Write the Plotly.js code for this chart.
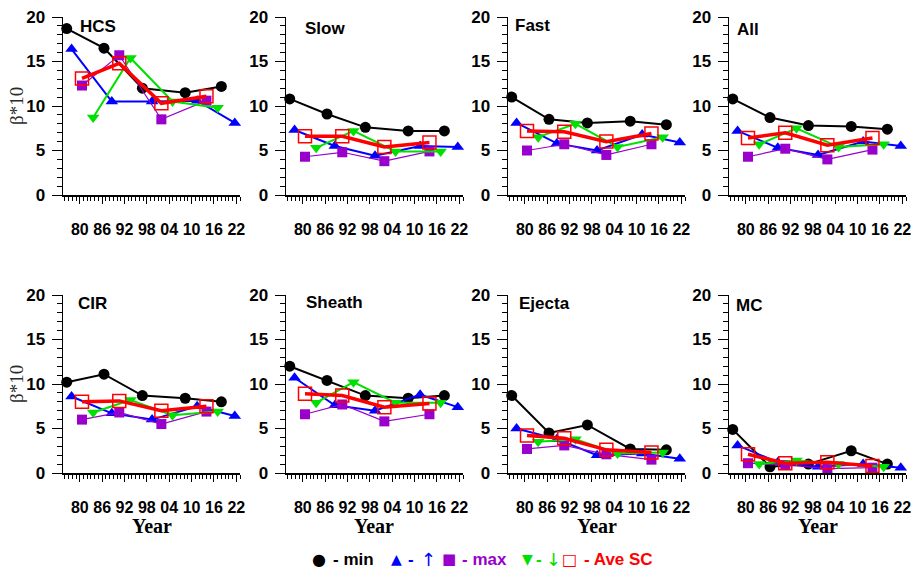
<!DOCTYPE html>
<html>
<head>
<meta charset="utf-8">
<script src="https://cdn.plot.ly/plotly-3.0.1.min.js"></script>
<style>html,body{margin:0;padding:0;background:#fff;}#chart{width:915px;height:572px;}</style>
</head>
<body>
<div id="chart"></div>
<script>
// ---- x positions (years) for each solar-cycle phase ----
const minYears  = [1976.5, 1986.5, 1996.8, 2008.3, 2018.0];
const riseYears = [1977.8, 1988.6, 1999.4, 2011.5, 2021.6];
const maxYears  = [1980.6, 1990.6, 2001.9, 2014.0];
const declYears = [1983.6, 1993.6, 2004.9, 2017.0];

const tickYears  = [1980, 1986, 1992, 1998, 2004, 2010, 2016, 2022];
const tickLabels = ['80', '86', '92', '98', '04', '10', '16', '22'];

const panelNames = ['HCS', 'Slow', 'Fast', 'All', 'CIR', 'Sheath', 'Ejecta', 'MC'];

// ---- values (beta*10) ----
const hcsMin  = [18.7, 16.5, 12.0, 11.5, 12.2];
const hcsRise = [16.4, 10.5, 10.5, 10.6, 8.1];
const hcsMax  = [12.3, 15.7, 8.5, 10.6];
const hcsDecl = [8.7, 15.4, 10.5, 9.8];
const hcsAve  = [13.1, 14.8, 10.3, 11.1];

const slowMin  = [10.8, 9.1, 7.6, 7.2, 7.2];
const slowRise = [7.3, 5.5, 4.4, 5.5, 5.4];
const slowMax  = [4.3, 4.8, 3.8, 4.9];
const slowDecl = [5.3, 7.2, 4.9, 4.9];
const slowAve  = [6.6, 6.6, 5.4, 5.9];

const fastMin  = [11.0, 8.5, 8.1, 8.3, 7.9];
const fastRise = [8.1, 5.8, 5.0, 6.8, 5.9];
const fastMax  = [5.0, 5.7, 4.5, 5.7];
const fastDecl = [6.5, 8.0, 5.4, 6.5];
const fastAve  = [7.2, 7.1, 6.0, 6.9];

const allMin  = [10.8, 8.7, 7.8, 7.7, 7.4];
const allRise = [7.2, 5.3, 4.5, 6.0, 5.5];
const allMax  = [4.3, 5.2, 4.0, 5.1];
const allDecl = [5.7, 7.5, 5.4, 5.7];
const allAve  = [6.4, 7.0, 5.6, 6.4];

const cirMin  = [10.2, 11.1, 8.7, 8.4, 8.0];
const cirRise = [8.6, 6.7, 6.0, 7.5, 6.4];
const cirMax  = [6.0, 6.8, 5.5, 6.9];
const cirDecl = [6.8, 8.2, 6.5, 6.9];
const cirAve  = [8.0, 8.1, 7.0, 7.5];

const sheathMin  = [12.0, 10.4, 8.7, 8.4, 8.7];
const sheathRise = [10.7, 7.6, 7.0, 8.8, 7.4];
const sheathMax  = [6.6, 7.7, 5.8, 6.6];
const sheathDecl = [7.9, 10.2, 7.9, 7.9];
const sheathAve  = [8.9, 8.7, 7.4, 7.8];

const ejectaMin  = [8.7, 4.5, 5.4, 2.7, 2.6];
const ejectaRise = [5.0, 3.8, 2.0, 2.2, 1.6];
const ejectaMax  = [2.7, 3.1, 2.1, 1.5];
const ejectaDecl = [3.5, 3.8, 2.2, 2.3];
const ejectaAve  = [4.2, 3.9, 2.6, 2.3];

const mcMin  = [4.9, 0.7, 1.0, 2.5, 1.0];
const mcRise = [3.1, 1.2, 0.7, 1.0, 0.6];
const mcMax  = [1.1, 0.9, 0.5, 0.6];
const mcDecl = [1.0, 1.4, 1.0, 0.7];
const mcAve  = [2.1, 1.1, 1.2, 0.8];

const panelData = [
  [hcsMin, hcsRise, hcsMax, hcsDecl, hcsAve],
  [slowMin, slowRise, slowMax, slowDecl, slowAve],
  [fastMin, fastRise, fastMax, fastDecl, fastAve],
  [allMin, allRise, allMax, allDecl, allAve],
  [cirMin, cirRise, cirMax, cirDecl, cirAve],
  [sheathMin, sheathRise, sheathMax, sheathDecl, sheathAve],
  [ejectaMin, ejectaRise, ejectaMax, ejectaDecl, ejectaAve],
  [mcMin, mcRise, mcMax, mcDecl, mcAve]
];

// legend pieces: text, colour
const legendItems = [
  ['●', '#000000'], ['- min', '#000000'],
  ['▲', '#0000FF'], ['-', '#0000FF'], ['↑', '#0000FF'],
  ['■', '#9900CC'], ['- max', '#9900CC'],
  ['▼', '#00E000'], ['-', '#00E000'], ['↓', '#00E000'],
  ['□', '#FF0000'], ['- Ave SC', '#FF0000']
];

// ---- layout geometry (pixels) ----
const W = 915, H = 572;
const colPx = [[63, 240], [286, 463], [508, 685], [729, 906]];
const rowPx = [[17, 195], [295, 473]];
const labelPx = [[78, 27], [303, 28], [513, 26], [735, 29], [76, 303], [304, 302], [517, 303], [734, 305]];
// legend piece placement: [x px, anchor, size, bold, glyph-font]
const legendPos = [
  [319, 'center', 16, false, true], [331, 'left', 17, true, false],
  [396, 'center', 14, false, true], [406, 'left', 17, true, false], [428, 'center', 18, false, true],
  [449, 'center', 15, false, true], [460, 'left', 17, true, false],
  [527, 'center', 14, false, true], [534, 'left', 17, true, false], [553, 'center', 18, false, true],
  [569, 'center', 16, false, true], [582, 'left', 17, true, false]
];

const COL = {min: '#000000', rise: '#0000FF', max: '#9900CC', decl: '#00E000', ave: '#FF0000'};
const sans = 'Liberation Sans, Arial, sans-serif';
const glyph = 'DejaVu Sans, sans-serif';
const serif = 'Liberation Serif, Times New Roman, serif';

const traces = [];
const layout = {
  width: W, height: H,
  margin: {l: 0, r: 0, t: 0, b: 0},
  paper_bgcolor: '#fff', plot_bgcolor: '#fff',
  showlegend: false,
  annotations: []
};

panelNames.forEach((name, i) => {
  const r = Math.floor(i / 4), c = i % 4;
  const sx = i === 0 ? '' : String(i + 1);
  const xa = 'x' + sx, ya = 'y' + sx;
  const [mn, rs, mx, dc, av] = panelData[i];
  const common = {xaxis: xa, yaxis: ya, mode: 'lines+markers', cliponaxis: false, hoverinfo: 'skip'};
  traces.push(Object.assign({}, common, {x: minYears, y: mn, line: {color: COL.min, width: 2},
    marker: {symbol: 'circle', size: 11, color: COL.min}}));
  traces.push(Object.assign({}, common, {x: riseYears, y: rs, line: {color: COL.rise, width: 2},
    marker: {symbol: 'triangle-up', size: 11, color: COL.rise}}));
  traces.push(Object.assign({}, common, {x: maxYears, y: mx, line: {color: COL.max, width: 1.2},
    marker: {symbol: 'square', size: 10, color: COL.max}}));
  traces.push(Object.assign({}, common, {x: declYears, y: dc, line: {color: COL.decl, width: 2},
    marker: {symbol: 'triangle-down', size: 11, color: COL.decl}}));
  traces.push(Object.assign({}, common, {x: maxYears, y: av, line: {color: COL.ave, width: 3.5},
    marker: {symbol: 'square-open', size: 13, color: COL.ave, line: {color: COL.ave, width: 1.5}}}));

  const xd = [colPx[c][0] / W, colPx[c][1] / W];
  const yd = [1 - rowPx[r][1] / H, 1 - rowPx[r][0] / H];
  layout['xaxis' + sx] = {
    domain: xd, anchor: ya, range: [1975.5, 2023],
    showline: true, linecolor: '#000', linewidth: 1.5, mirror: false,
    showgrid: false, zeroline: false,
    ticks: 'outside', ticklen: 7, tickwidth: 1, tickcolor: '#000',
    tickmode: 'array', tickvals: tickYears, ticktext: tickLabels,
    tickfont: {family: sans, size: 16, weight: 'bold', color: '#000'},
    ticklabelstandoff: 12,
    minor: {tickmode: 'linear', tick0: 1975, dtick: 1, ticks: 'outside', ticklen: 4, tickwidth: 1, tickcolor: '#000', showgrid: false},
    fixedrange: true
  };
  layout['yaxis' + sx] = {
    domain: yd, anchor: xa, range: [0, 20],
    showline: true, linecolor: '#000', linewidth: 1.5, mirror: false,
    showgrid: false, zeroline: false,
    ticks: 'outside', ticklen: 10, tickwidth: 1, tickcolor: '#000',
    tickmode: 'array', tickvals: [0, 5, 10, 15, 20],
    tickfont: {family: sans, size: 17, weight: 'bold', color: '#000'},
    ticklabelstandoff: 3,
    minor: {tickmode: 'linear', tick0: 0, dtick: 1, ticks: 'outside', ticklen: 5, tickwidth: 1, tickcolor: '#000', showgrid: false},
    fixedrange: true
  };

  layout.annotations.push({
    xref: 'paper', yref: 'paper', x: labelPx[i][0] / W, y: 1 - labelPx[i][1] / H,
    xanchor: 'left', yanchor: 'middle', showarrow: false, text: name,
    font: {family: sans, size: 17, weight: 'bold', color: '#000'}
  });
  if (c === 0) {
    layout.annotations.push({
      xref: 'paper', yref: 'paper', x: 17 / W, y: (yd[0] + yd[1]) / 2,
      xanchor: 'center', yanchor: 'middle', showarrow: false, textangle: -90, text: 'β*10',
      font: {family: serif, size: 19, color: '#2b2b2b'}
    });
  }
  if (r === 1) {
    layout.annotations.push({
      xref: 'paper', yref: 'paper', x: (xd[0] + xd[1]) / 2, y: 1 - 526 / H,
      xanchor: 'center', yanchor: 'middle', showarrow: false, text: 'Year',
      font: {family: serif, size: 20, weight: 'bold', color: '#000'}
    });
  }
});

// legend row built from separate text pieces
legendItems.forEach((it, k) => {
  const p = legendPos[k];
  layout.annotations.push({
    xref: 'paper', yref: 'paper', x: p[0] / W, y: 1 - 559 / H,
    xanchor: p[1], yanchor: 'middle', showarrow: false, text: it[0],
    font: {family: p[4] ? glyph : sans, size: p[2], weight: p[3] ? 'bold' : 'normal', color: it[1]}
  });
});

Plotly.newPlot('chart', traces, layout, {staticPlot: true, displayModeBar: false});
</script>
</body>
</html>
